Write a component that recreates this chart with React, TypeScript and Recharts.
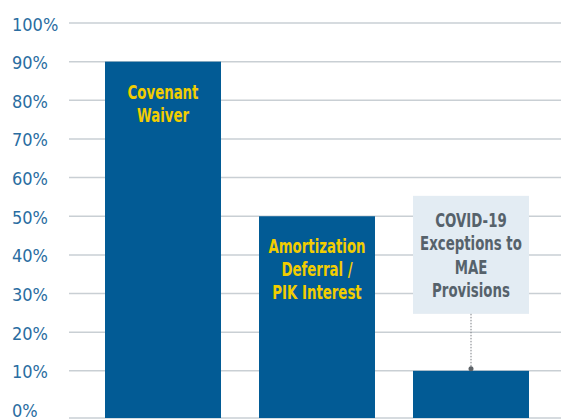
import { Bar, BarChart, CartesianGrid, LabelList, XAxis, YAxis } from "recharts"

const categories = ["Covenant\nWaiver", "Amortization\nDeferral /\nPIK Interest", "COVID-19\nExceptions to\nMAE\nProvisions"]
const shares = [90, 50, 10]
const yTicks = [0, 10, 20, 30, 40, 50, 60, 70, 80, 90, 100]
// the bars and the bottom rule sit a little below the 0% tick
const yFloor = -2.2
const gridValues = [yFloor, 10, 20, 30, 40, 50, 60, 70, 80, 90, 100]

const data = categories.map((name, i) => ({ name, share: shares[i] }))

const labelFont = "'DejaVu Sans Condensed', sans-serif"
const squeeze = 0.78

function YTick(props: any) {
  const { y, payload } = props
  return (
    <text
      x={12}
      y={y + 1}
      textAnchor="start"
      dominantBaseline="central"
      fill="#2a6da1"
      fontSize={18}
      fontFamily="'DejaVu Sans Condensed', sans-serif"
    >
      {payload.value}%
    </text>
  )
}

// bar drawn down to the bottom of the plot (the axis floor)
function FloorBar(props: any) {
  const { x, y, width, background, fill } = props
  const bottom = background ? background.y + background.height : y + props.height
  return <rect x={x} y={y} width={width} height={bottom - y} fill={fill} />
}

function Lines({ cx, top, step, lines, fill }: any) {
  return (
    <g transform={`translate(${cx},0) scale(${squeeze},1)`}>
      <text textAnchor="middle" fill={fill} fontSize={19} fontWeight="bold" fontFamily={labelFont}>
        {lines.map((l: string, i: number) => (
          <tspan key={i} x={0} y={top + i * step}>
            {l}
          </tspan>
        ))}
      </text>
    </g>
  )
}

function BarLabel(props: any) {
  const { x, y, width, index } = props
  const lines = categories[index].split("\n")
  const cx = x + width / 2
  if (shares[index] >= 20) {
    return <Lines cx={cx} top={y + 37} step={23} lines={lines} fill="#f2cd00" />
  }
  const boxTop = y - 175
  const boxBottom = y - 57
  return (
    <g>
      <rect x={x} y={boxTop} width={width} height={boxBottom - boxTop} fill="#e3ecf3" />
      <line x1={cx} x2={cx} y1={boxBottom} y2={y - 2} stroke="#7a7f84" strokeWidth={1} strokeDasharray="1.5 1.5" />
      <circle cx={cx} cy={y - 2} r={2.5} fill="#5d6368" />
      <Lines cx={cx} top={boxTop + 31} step={23.5} lines={lines} fill="#56626b" />
    </g>
  )
}

export default function App() {
  return (
    <div style={{ position: "absolute", left: 0, top: 0, background: "#fff" }}>
      <BarChart
        width={561}
        height={420}
        data={data}
        margin={{ top: 23, right: 0, left: 0, bottom: 2 }}
        barCategoryGap={19}
      >
        <CartesianGrid vertical={false} stroke="#c9cfd4" strokeWidth={1.5} horizontalValues={gridValues} />
        <XAxis dataKey="name" hide padding={{ left: 17, right: 13 }} />
        <YAxis
          width={69}
          type="number"
          domain={[yFloor, 100]}
          allowDataOverflow
          ticks={yTicks}
          interval={0}
          axisLine={false}
          tickLine={false}
          tick={<YTick />}
        />
        <Bar dataKey="share" fill="#025b95" isAnimationActive={false} shape={<FloorBar />}>
          <LabelList dataKey="share" content={<BarLabel />} />
        </Bar>
      </BarChart>
    </div>
  )
}
